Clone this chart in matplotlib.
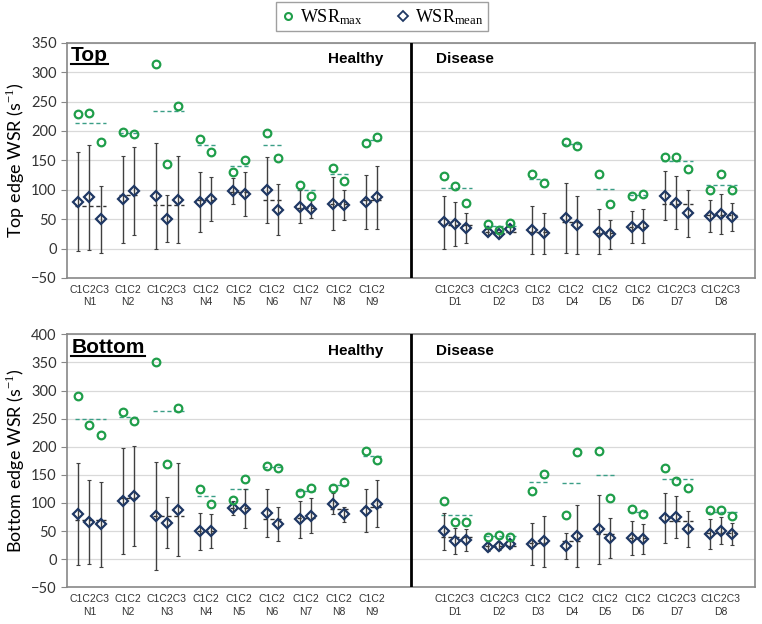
import matplotlib
matplotlib.use("Agg")
import matplotlib.pyplot as plt
from matplotlib.lines import Line2D
import numpy as np

plt.rcParams["mathtext.fontset"] = "custom"
plt.rcParams["mathtext.rm"] = "Liberation Serif"

# Groups (subjects) and their catheter labels
healthy = ["N1", "N2", "N3", "N4", "N5", "N6", "N7", "N8", "N9"]
disease = ["D1", "D2", "D3", "D4", "D5", "D6", "D7", "D8"]
healthy_n = [3, 2, 3, 2, 2, 2, 2, 2, 2]
disease_n = [3, 3, 2, 2, 2, 2, 3, 3]

# Top edge WSR: max, mean, sd per catheter
top_max = [[229, 231, 181], [198, 195], [314, 144, 242], [187, 165], [131, 150],
           [197, 154], [108, 90], [137, 115], [179, 190],
           [123, 106, 78], [42, 31, 44], [126, 111], [182, 175], [127, 75],
           [89, 92], [155, 155, 136], [99, 127, 100]]
top_mean = [[80, 87, 50], [84, 98], [90, 51, 83], [80, 84], [98, 93],
            [100, 66], [71, 67], [76, 74], [79, 87],
            [45, 42, 35], [28, 24, 34], [31, 26], [52, 40], [29, 24],
            [37, 38], [90, 78, 60], [56, 59, 54]]
top_sd = [[84, 89, 57], [74, 75], [90, 40, 74], [51, 37], [22, 38],
          [56, 43], [28, 15], [45, 25], [46, 53],
          [45, 38, 26], [5, 4, 5], [41, 35], [60, 50], [39, 24],
          [27, 29], [42, 45, 40], [27, 34, 24]]

# Bottom edge WSR: max, mean, sd per catheter
bot_max = [[290, 239, 221], [261, 245], [350, 170, 268], [124, 99], [105, 143],
           [166, 163], [118, 126], [126, 137], [192, 176],
           [103, 66, 66], [40, 43, 40], [122, 151], [79, 191], [192, 108],
           [89, 80], [163, 139, 127], [87, 87, 77]]
bot_mean = [[80, 66, 62], [104, 112], [77, 65, 88], [50, 50], [91, 90],
            [82, 62], [71, 77], [99, 80], [86, 99],
            [50, 32, 34], [21, 24, 27], [27, 32], [23, 42], [53, 38],
            [38, 36], [73, 75, 54], [45, 51, 45]]
bot_sd = [[91, 75, 75], [94, 89], [96, 45, 83], [33, 30], [12, 35],
          [42, 30], [33, 31], [18, 13], [38, 42],
          [33, 23, 20], [7, 7, 7], [37, 45], [23, 55], [61, 36],
          [30, 26], [44, 38, 32], [26, 24, 19]]

ylims = {"top": (-50, 350), "bot": (-50, 400)}

GREEN = "#1f9e4a"
NAVY = "#1f3864"
DASH_GREEN = "#3a9e86"

# x slot positions: one slot per catheter, one empty slot between groups,
# wider gap between healthy and disease
names = healthy + disease
counts = healthy_n + disease_n
positions = []
x = 0
for i, n in enumerate(counts):
    if i == len(healthy):
        x += 4
    positions.append(list(range(x, x + n)))
    x += n + 1
separator = (positions[len(healthy) - 1][-1] + positions[len(healthy)][0]) / 2


def draw_panel(ax, vmax, vmean, vsd, ylim, title, ylabel):
    for pos, mx, mn, sd in zip(positions, vmax, vmean, vsd):
        ax.errorbar(pos, mn, yerr=sd, fmt="none", ecolor="#404040",
                    elinewidth=1, capsize=1.5, capthick=0.8, zorder=3)
        ax.plot(pos, mn, "D", ms=5.5, mfc="none", mec=NAVY, mew=1.6, zorder=4)
        ax.plot(pos, mx, "o", ms=5.5, mfc="none", mec=GREEN, mew=1.6, zorder=4)
        # group averages as short dashed lines
        x0, x1 = pos[0] - 0.3, pos[-1] + 0.5
        ax.plot([x0, x1], [np.mean(mx)] * 2, color=DASH_GREEN, lw=1,
                dashes=(3, 2), zorder=2)
        ax.plot([x0, x1], [np.mean(mn)] * 2, color="#333333", lw=1,
                dashes=(3, 2), zorder=2)

    ax.axvline(separator, color="black", lw=2, zorder=5)
    ax.set_xlim(-1.02, 61.1)
    ax.set_ylim(*ylim)
    ax.set_yticks(np.arange(ylim[0], ylim[1] + 1, 50))
    ax.grid(axis="y", color="#d9d9d9", lw=0.9)
    ax.set_axisbelow(True)

    centers = [np.mean(p) for p in positions]
    labels = [("C1C2C3" if n == 3 else "C1C2") + "\n" + nm
              for n, nm in zip(counts, names)]
    ax.set_xticks(centers)
    ax.set_xticklabels(labels, fontsize=7.5, color="#333333",
                       family="Liberation Sans", linespacing=1.3)
    ax.tick_params(axis="x", length=0, pad=5)
    ax.tick_params(axis="y", length=4, direction="out", color="#888888",
                   labelsize=10.5, labelcolor="#333333")
    for lab in ax.get_yticklabels():
        lab.set_family("Lato")
    for s in ax.spines.values():
        s.set_color("#888888")
        s.set_linewidth(1.2)

    ax.set_ylabel(ylabel, fontsize=13, family="Lato", labelpad=3)
    ax.text(0.006, 0.985, title, transform=ax.transAxes, fontsize=15,
            fontweight="bold", va="top", ha="left", family="Liberation Sans")
    ax.text(0.42, 0.96, "Healthy", transform=ax.transAxes, fontsize=11,
            fontweight="bold", va="top", ha="center", family="Liberation Sans")
    ax.text(0.578, 0.96, "Disease", transform=ax.transAxes, fontsize=11,
            fontweight="bold", va="top", ha="center", family="Liberation Sans")


fig = plt.figure(figsize=(7.62, 6.24), dpi=100)
ax1 = fig.add_axes([0.088, 0.5545, 0.903, 0.377])
ax2 = fig.add_axes([0.088, 0.0588, 0.903, 0.4055])

draw_panel(ax1, top_max, top_mean, top_sd, ylims["top"], "Top",
           "Top edge WSR (s$^{-1}$)")
draw_panel(ax2, bot_max, bot_mean, bot_sd, ylims["bot"], "Bottom",
           "Bottom edge WSR (s$^{-1}$)")

# underline panel titles
fig.canvas.draw()
for ax in (ax1, ax2):
    t = [tx for tx in ax.texts if tx.get_text() in ("Top", "Bottom")][0]
    bb = t.get_window_extent().transformed(ax.transAxes.inverted())
    ax.plot([bb.x0, bb.x1], [bb.y0 + 0.005] * 2, transform=ax.transAxes,
            color="black", lw=1.5, clip_on=False)

handles = [
    Line2D([], [], ls="none", marker="o", ms=5, mfc="none", mec=GREEN, mew=1.5),
    Line2D([], [], ls="none", marker="D", ms=5, mfc="none", mec=NAVY, mew=1.3),
]
leg = fig.legend(handles, [r"$\mathrm{WSR_{max}}$", r"$\mathrm{WSR_{mean}}$"],
                 loc="center", bbox_to_anchor=(0.5015, 0.973), ncol=2,
                 fontsize=13, frameon=True, fancybox=False, edgecolor="#888888",
                 handletextpad=0.3, columnspacing=1.8, borderpad=0.25,
                 handlelength=0.8)
leg.get_frame().set_linewidth(1.0)

fig.savefig("out.png", dpi=100)
plt.close(fig)
